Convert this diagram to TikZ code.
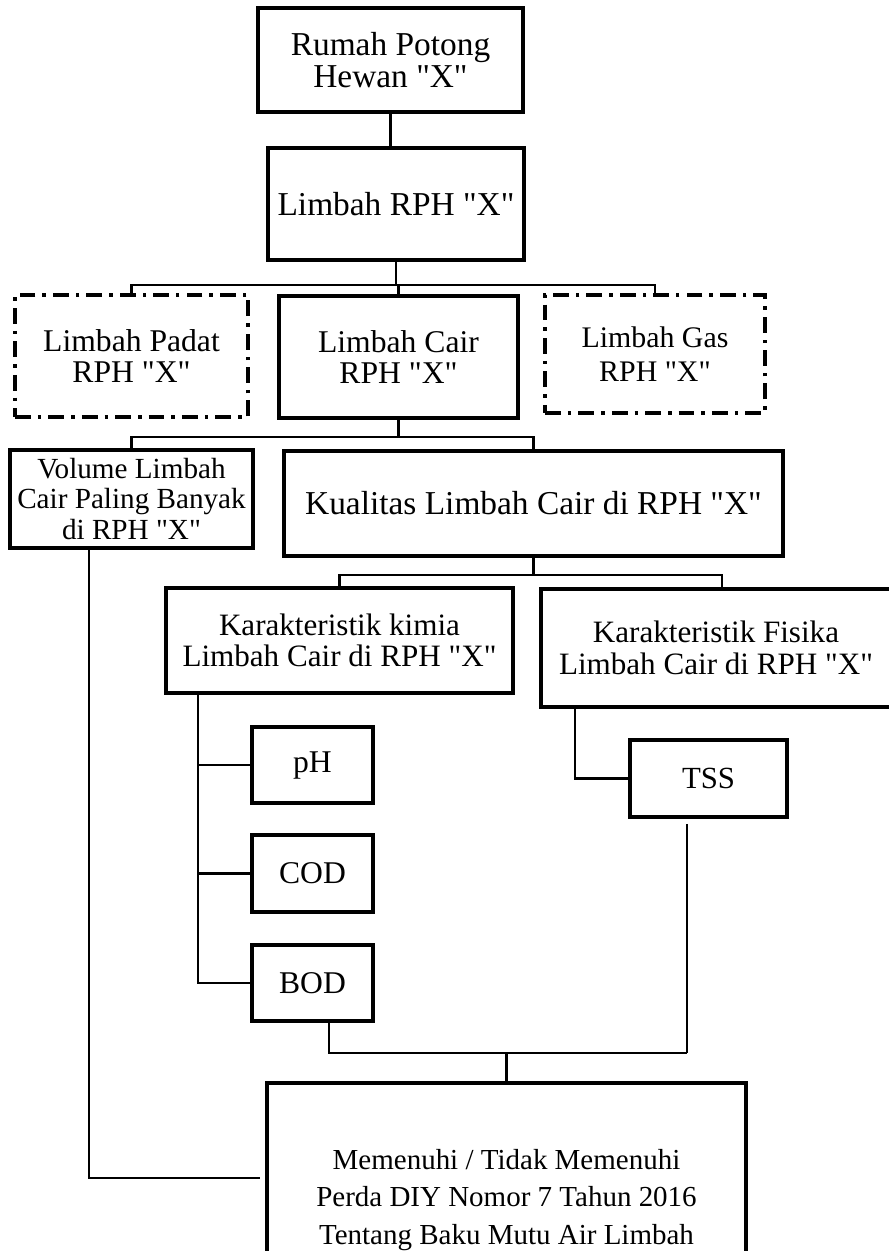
\documentclass[tikz,border=0pt]{standalone}
\usepackage{fontspec}
\newfontfamily\lserif{Liberation Serif}
\usetikzlibrary{positioning}

\begin{document}
\begin{tikzpicture}[
    box/.style={draw, line width=2pt, align=center, inner sep=0pt, font=\lserif\fontsize{18}{18}\selectfont},
    dashbox/.style={box, dash pattern=on 9pt off 4pt on 2pt off 4pt},
    lnk/.style={line width=1.3pt},
]
\useasboundingbox (0,0) rectangle (17.78,-25.02);

% Top boxes
\node[box, minimum width=5.30cm, minimum height=2.08cm, font=\lserif\fontsize{19}{18.5}\selectfont] (rph) at (7.81,-1.20) {Rumah Potong\\Hewan "X"};
\node[box, minimum width=5.12cm, minimum height=2.24cm, font=\lserif\fontsize{19}{19}\selectfont] (limbah) at (7.92,-4.08) {Limbah RPH "X"};

% Jenis limbah
\node[dashbox, minimum width=4.66cm, minimum height=2.44cm, font=\lserif\fontsize{18}{17.6}\selectfont] (padat) at (2.63,-7.12) {Limbah Padat\\RPH "X"};
\node[box, minimum width=4.78cm, minimum height=2.44cm] (cair) at (7.97,-7.14) {Limbah Cair\\RPH "X"};
\node[dashbox, minimum width=4.40cm, minimum height=2.36cm, font=\lserif\fontsize{17}{19}\selectfont] (gas) at (13.10,-7.08) {Limbah Gas\\RPH "X"};

% Limbah cair
\node[box, minimum width=4.86cm, minimum height=1.96cm, font=\lserif\fontsize{16.6}{17.6}\selectfont] (volume) at (2.63,-9.98) {Volume Limbah\\Cair Paling Banyak\\di RPH "X"};
\node[box, minimum width=9.98cm, minimum height=2.10cm, font=\lserif\fontsize{19}{19}\selectfont] (kualitas) at (10.67,-10.07) {Kualitas Limbah Cair di RPH "X"};

% Karakteristik
\node[box, minimum width=6.94cm, minimum height=2.10cm, font=\lserif\fontsize{17.7}{18}\selectfont] (kimia) at (6.79,-12.81) {Karakteristik kimia\\Limbah Cair di RPH "X"};
\node[box, minimum width=7.00cm, minimum height=2.36cm, font=\lserif\fontsize{17.7}{18}\selectfont] (fisika) at (14.32,-12.96) {Karakteristik Fisika\\Limbah Cair di RPH "X"};

% Parameter
\node[box, minimum width=2.42cm, minimum height=1.52cm] (ph) at (6.25,-15.30) {pH};
\node[box, minimum width=2.42cm, minimum height=1.54cm] (cod) at (6.25,-17.47) {COD};
\node[box, minimum width=2.42cm, minimum height=1.52cm] (bod) at (6.25,-19.66) {BOD};
\node[box, minimum width=3.14cm, minimum height=1.54cm, font=\lserif\fontsize{17.5}{17.5}\selectfont] (tss) at (14.17,-15.57) {TSS};

% Baku mutu
\node[box, minimum width=9.58cm, minimum height=4.68cm, font=\lserif\fontsize{16.5}{21.3}\selectfont] (baku) at (10.13,-24.00) {Memenuhi / Tidak Memenuhi\\Perda DIY Nomor 7 Tahun 2016\\Tentang Baku Mutu Air Limbah};

% Connectors
\draw[lnk] (rph.south) -- (rph.south |- limbah.north);
\draw[lnk] (limbah.south) -- ++(0,-0.46) coordinate (b1);
\draw[lnk] (padat.north) |- (b1) -| (gas.north);
\draw[lnk] (b1) -- (cair.north |- b1) -- (cair.north);

\draw[lnk] (cair.south) -- ++(0,-0.34) coordinate (b2);
\draw[lnk] (volume.north) |- (b2) -| (kualitas.north);

\draw[lnk] (kualitas.south) -- ++(0,-0.34) coordinate (b3);
\draw[lnk] (kimia.north) |- (b3) -| ([xshift=0.12cm]fisika.north);

\coordinate (kt) at ([xshift=0.68cm]kimia.south west);
\draw[lnk] (kt) |- (bod.west);
\draw[lnk] (ph.west) -- (ph.west -| kt);
\draw[lnk] (cod.west) -- (cod.west -| kt);

\draw[lnk] ([xshift=0.72cm]fisika.south west) |- (tss.west);

% To baku mutu
\draw[lnk] (baku.north) -- ++(0,0.56) coordinate (j);
\coordinate (ts) at ([xshift=-0.43cm,yshift=-0.1cm]tss.south);
\draw[lnk] ([xshift=0.33cm]bod.south) |- (j) -- (j -| ts);
\draw[line width=0.9pt] (ts) -- (j -| ts);
\draw[lnk] ([xshift=-0.85cm]volume.south) |- ([xshift=-0.1cm,yshift=0.44cm]baku.west);

\end{tikzpicture}
\end{document}
